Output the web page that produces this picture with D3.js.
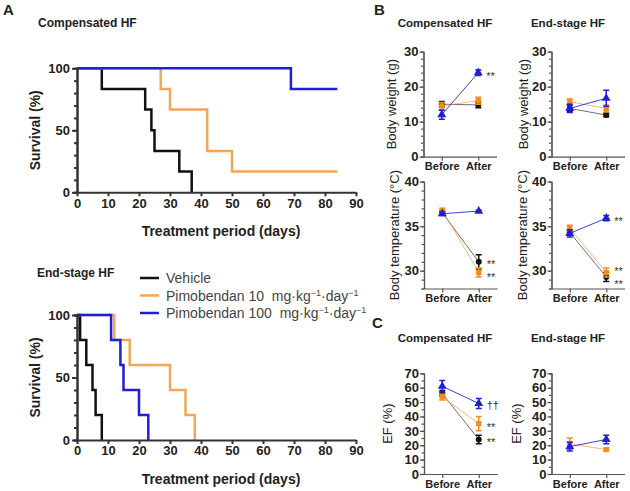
<!DOCTYPE html>
<html>
<head>
<meta charset="utf-8">
<script src="https://cdn.jsdelivr.net/npm/d3@7/dist/d3.min.js"></script>
<style>
	body { margin: 0; background: #fff; }
	svg { font-family: 'Liberation Sans', Arial, sans-serif; }
	.axis path, .axis line { stroke: #333; }
	.axis text { font-family: 'Liberation Sans', Arial, sans-serif; font-weight: bold; fill: #222; }
	.km .axis text { font-size: 13px; }
	.km .axis path, .km .axis line { stroke-width: 2; }
	.pair .axis path, .pair .axis line { stroke-width: 1.2; stroke: #555; }
</style>
</head>
<body>
<script>
// ---- survival data (step points: day, % alive) ----
var compVehicleDays = [0, 8, 22, 24, 25, 33, 37],
	compVehicleSurv = [100, 83.3, 66.7, 50, 33.3, 16.7, 0],
	compLowDays = [0, 27, 30, 42, 50, 84],
	compLowSurv = [100, 83.3, 66.7, 33.3, 16.7, 16.7],
	compHighDays = [0, 69, 84],
	compHighSurv = [100, 83.3, 83.3];

var endVehicleDays = [0, 1, 3, 5, 6, 8],
	endVehicleSurv = [100, 80, 60, 40, 20, 0],
	endLowDays = [0, 12, 17, 30, 35, 38],
	endLowSurv = [100, 80, 60, 40, 20, 0],
	endHighDays = [0, 11, 14, 15, 20, 23],
	endHighSurv = [100, 80, 60, 40, 20, 0];

var dayTicks = [0, 10, 20, 30, 40, 50, 60, 70, 80, 90];

// ---- before / after data, rows: vehicle, pimo 10, pimo 100 ----
var phases = ['Before', 'After'];

var bwCompMean = [[15, 14.8], [14.5, 16], [12, 24]],
	bwCompErr = [[0.8, 0.8], [1, 1], [1.3, 0.8]],
	bwCompSig = ['', '', '**'];
var bwEndMean = [[13.8, 11.9], [15.7, 13.8], [13.8, 16.7]],
	bwEndErr = [[0.8, 0.5], [0.8, 1], [1.2, 2.3]],
	bwEndSig = ['', '', ''];

var tempCompMean = [[36.5, 31.0], [36.8, 29.8], [36.4, 36.7]],
	tempCompErr = [[0.2, 0.8], [0.2, 0.5], [0.2, 0.1]],
	tempCompSig = ['**', '**', ''];
var tempEndMean = [[34.3, 29.3], [34.8, 29.8], [34.2, 35.9]],
	tempEndErr = [[0.3, 0.5], [0.3, 0.5], [0.4, 0.3]],
	tempEndSig = ['**', '**', '**'];

var efCompMean = [[56, 24], [53.5, 35], [61, 49]],
	efCompErr = [[2, 3], [2, 5], [4, 3.5]],
	efCompSig = ['**', '**', '\u2020\u2020'];
var efEndMean = [null, [21, 17], [19, 24]],
	efEndErr = [null, [4, 1], [3, 3]],
	efEndSig = ['', '', ''];

var groupNames = ['Vehicle', 'Pimobendan 10', 'Pimobendan 100'];
var kmColors = ['#111', '#f2a65a', '#1f1fd6'];
var dotColors = ['#111', '#f28c1e', '#1f1fd6'];

var svg = d3.select('body').append('svg')
	.attr('width', 630)
	.attr('height', 491);

// ---- panel letters and titles ----
function label(txt, x, y, size, weight, anchor) {
	return svg.append('text')
		.attr('x', x).attr('y', y)
		.attr('font-size', size)
		.attr('font-weight', weight || 'bold')
		.attr('text-anchor', anchor || 'start')
		.attr('fill', '#222')
		.text(txt);
}
label('A', 3, 15, 15);
label('B', 374, 15, 15);
label('C', 372, 328, 15);
label('Compensated HF', 38, 27, 12);
label('End-stage HF', 37, 277, 12);
label('Compensated HF', 445, 27, 11.5, 'bold', 'middle');
label('End-stage HF', 568, 27, 11.5, 'bold', 'middle');
label('Compensated HF', 445, 342, 11.5, 'bold', 'middle');
label('End-stage HF', 568, 342, 11.5, 'bold', 'middle');

// ---- Kaplan-Meier panels ----
var xDays = d3.scaleLinear().domain([0, 90]).range([77, 356]);

function kmPlot(top, bottom, curves) {
	var y = d3.scaleLinear().domain([0, 100]).range([bottom, top]);
	var g = svg.append('g').attr('class', 'km');

	var line = d3.line()
		.curve(d3.curveStepAfter)
		.x(function(d) { return xDays(d[0]); })
		.y(function(d) { return y(d[1]); });

	curves.forEach(function(c, i) {
		g.append('path')
			.datum(d3.zip(c[0], c[1]))
			.attr('fill', 'none')
			.attr('stroke', kmColors[i])
			.attr('stroke-width', 2.5)
			.attr('d', line);
	});

	g.append('g')
		.attr('class', 'axis')
		.attr('transform', 'translate(0,' + bottom + ')')
		.call(d3.axisBottom(xDays).tickValues(dayTicks).tickSize(4).tickSizeOuter(0).tickPadding(2));

	// minor ticks on survival axis
	g.append('g')
		.attr('class', 'axis')
		.attr('transform', 'translate(77,0)')
		.call(d3.axisLeft(y).tickValues(d3.range(0, 101, 10)).tickSize(3).tickFormat(''));
	g.append('g')
		.attr('class', 'axis')
		.attr('transform', 'translate(77,0)')
		.call(d3.axisLeft(y).tickValues([0, 50, 100]).tickSize(5).tickSizeOuter(0).tickPadding(2));

	g.selectAll('.axis').attr('font-family', null).attr('font-size', null);

	svg.append('text')
		.attr('transform', 'translate(40,' + ((top + bottom) / 2) + ') rotate(-90)')
		.attr('text-anchor', 'middle')
		.attr('font-size', 14).attr('font-weight', 'bold').attr('fill', '#222')
		.text('Survival (%)');
	svg.append('text')
		.attr('x', 221).attr('y', bottom + 44)
		.attr('text-anchor', 'middle')
		.attr('font-size', 14).attr('font-weight', 'bold').attr('fill', '#222')
		.text('Treatment period (days)');
}

kmPlot(68.3, 192.3, [
	[compVehicleDays, compVehicleSurv],
	[compLowDays, compLowSurv],
	[compHighDays, compHighSurv]
]);
kmPlot(315, 440, [
	[endVehicleDays, endVehicleSurv],
	[endLowDays, endLowSurv],
	[endHighDays, endHighSurv]
]);

// legend
var legend = svg.append('g').attr('transform', 'translate(140,278)');
groupNames.forEach(function(name, i) {
	var row = legend.append('g').attr('transform', 'translate(0,' + (i * 17.5) + ')');
	row.append('line')
		.attr('x1', 0).attr('x2', 19)
		.attr('stroke', kmColors[i]).attr('stroke-width', 2.5);
	var t = row.append('text')
		.attr('x', 26).attr('y', 5)
		.attr('font-size', 14).attr('fill', '#444')
		.style('white-space', 'pre')
		.text(name);
	if (i > 0) {
		t.append('tspan').text('  mg\u00b7kg');
		t.append('tspan').attr('font-size', 9).attr('dy', -5).text('\u22121');
		t.append('tspan').attr('dy', 5).text('\u00b7day');
		t.append('tspan').attr('font-size', 9).attr('dy', -5).text('\u22121');
	}
});

// ---- before / after panels ----
function pairPlot(ax, yDomain, yRange, major, minor, means, errs, sigs, yLabel, labelOffset) {
	var g = svg.append('g').attr('class', 'pair');
	var x = d3.scalePoint().domain(phases).range([ax, ax + 73]).padding(0.5);
	var y = d3.scaleLinear().domain(yDomain).range(yRange);

	g.append('g')
		.attr('class', 'axis')
		.attr('transform', 'translate(' + ax + ',0)')
		.call(d3.axisLeft(y).tickValues(minor).tickSize(2.5).tickFormat(''));
	var yAx = g.append('g')
		.attr('class', 'axis')
		.attr('transform', 'translate(' + ax + ',0)')
		.call(d3.axisLeft(y).tickValues(major).tickSize(4).tickSizeOuter(0).tickPadding(1));
	var xAx = g.append('g')
		.attr('class', 'axis')
		.attr('transform', 'translate(0,' + yRange[0] + ')')
		.call(d3.axisBottom(x).tickSize(4).tickSizeOuter(0).tickPadding(2));
	g.selectAll('.axis').attr('font-family', null).attr('font-size', null);
	yAx.selectAll('text').style('font-size', '13px');
	xAx.selectAll('text').style('font-size', '11px');

	// connecting lines first, then error bars and markers
	means.forEach(function(m, i) {
		if (!m) return;
		g.append('line')
			.attr('x1', x('Before')).attr('y1', y(m[0]))
			.attr('x2', x('After')).attr('y2', y(m[1]))
			.attr('stroke', dotColors[i]).attr('stroke-width', 1)
			.attr('stroke-opacity', i === 2 ? 0.85 : 0.6);
	});
	var symbols = [d3.symbolCircle, d3.symbolSquare, d3.symbolTriangle];
	means.forEach(function(m, i) {
		if (!m) return;
		phases.forEach(function(p, k) {
			var cx = x(p), lo = y(m[k] - errs[i][k]), hi = y(m[k] + errs[i][k]);
			g.append('path')
				.attr('d', 'M' + (cx - 3) + ',' + hi + 'H' + (cx + 3) + 'M' + cx + ',' + hi + 'V' + lo + 'M' + (cx - 3) + ',' + lo + 'H' + (cx + 3))
				.attr('fill', 'none')
				.attr('stroke', dotColors[i]).attr('stroke-width', 1.5);
			g.append('path')
				.attr('d', d3.symbol().type(symbols[i]).size(i === 2 ? 34 : 28)())
				.attr('transform', 'translate(' + cx + ',' + y(m[k]) + ')')
				.attr('fill', dotColors[i]);
		});
	});

	// significance marks next to the "After" points; crowded pairs are spread
	// around their midpoint so they don't collide
	var marks = [];
	means.forEach(function(m, i) {
		if (m && sigs[i]) marks.push({ txt: sigs[i], y: y(m[1]) });
	});
	marks.sort(function(a, b) { return a.y - b.y; });
	for (var j = 1; j < marks.length; j++) {
		if (marks[j].y - marks[j - 1].y < 13) {
			var mid = (marks[j].y + marks[j - 1].y) / 2;
			marks[j - 1].y = mid - 6.5;
			marks[j].y = mid + 6.5;
		}
	}
	marks.forEach(function(mk) {
		g.append('text')
			.attr('x', x('After') + 8)
			.attr('y', mk.y + (mk.txt === '**' ? 7 : 5))
			.attr('font-size', 11).attr('fill', '#333')
			.text(mk.txt);
	});

	svg.append('text')
		.attr('transform', 'translate(' + (ax - labelOffset) + ',' + ((yRange[0] + yRange[1]) / 2) + ') rotate(-90)')
		.attr('text-anchor', 'middle')
		.attr('dy', '0.35em')
		.attr('font-size', 13).attr('fill', '#222')
		.text(yLabel);
}

var bwMajor = [0, 10, 20, 30], bwMinor = d3.range(0, 31, 2);
var tempMajor = [30, 35, 40], tempMinor = d3.range(28, 41, 1);
var efMajor = d3.range(0, 71, 10), efMinor = d3.range(0, 71, 5);

pairPlot(423.5, [0, 30], [156.7, 51.7], bwMajor, bwMinor, bwCompMean, bwCompErr, bwCompSig, 'Body weight (g)', 32);
pairPlot(551.5, [0, 30], [156.7, 51.7], bwMajor, bwMinor, bwEndMean, bwEndErr, bwEndSig, 'Body weight (g)', 28.5);
pairPlot(424, [28, 40], [288.5, 181.7], tempMajor, tempMinor, tempCompMean, tempCompErr, tempCompSig, 'Body temperature (\u00b0C)', 30);
pairPlot(551.5, [28, 40], [288.5, 181.7], tempMajor, tempMinor, tempEndMean, tempEndErr, tempEndSig, 'Body temperature (\u00b0C)', 29);
pairPlot(424, [0, 70], [474, 373.3], efMajor, efMinor, efCompMean, efCompErr, efCompSig, 'EF (%)', 36.5);
pairPlot(551.5, [0, 70], [474, 373.3], efMajor, efMinor, efEndMean, efEndErr, efEndSig, 'EF (%)', 35);
</script>
</body>
</html>
